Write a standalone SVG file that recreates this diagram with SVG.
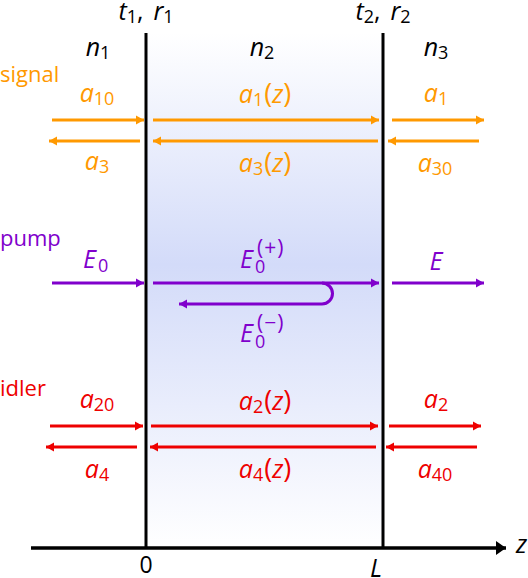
<svg xmlns="http://www.w3.org/2000/svg" width="528" height="578" viewBox="0 0 528 578">
<defs>
<linearGradient id="bg" x1="0" y1="0" x2="0" y2="1">
<stop offset="0" stop-color="#ffffff"/>
<stop offset="0.45" stop-color="#d3dbf9"/>
<stop offset="1" stop-color="#ffffff"/>
</linearGradient>
<marker id="mo" markerUnits="userSpaceOnUse" markerWidth="9" markerHeight="10" refX="8" refY="5" orient="auto"><path d="M0,0.5 L8,5 L0,9.5 z" fill="#ff9900"/></marker>
<marker id="mp" markerUnits="userSpaceOnUse" markerWidth="9" markerHeight="10" refX="8" refY="5" orient="auto"><path d="M0,0.5 L8,5 L0,9.5 z" fill="#8000cc"/></marker>
<marker id="mr" markerUnits="userSpaceOnUse" markerWidth="9" markerHeight="10" refX="8" refY="5" orient="auto"><path d="M0,0.5 L8,5 L0,9.5 z" fill="#ee0000"/></marker>
<marker id="mk" markerUnits="userSpaceOnUse" markerWidth="11" markerHeight="14" refX="10" refY="7" orient="auto"><path d="M0,0 L10,7 L0,14 z" fill="#000"/></marker>
</defs>
<style>
text{font-family:"Open Sans","DejaVu Sans",sans-serif;font-size:25px}
.i{font-style:italic}
.s{font-size:18px;font-style:normal}
.sp{font-size:21px;letter-spacing:1px}
.pa{font-size:27px}
.lb{font-size:22px}
.o{fill:#ff9900}.p{fill:#8000cc}.r{fill:#ee0000}.k{fill:#000}
.lo{stroke:#ff9900;stroke-width:3;fill:none;marker-end:url(#mo)}
.lp{stroke:#8000cc;stroke-width:3;fill:none;marker-end:url(#mp)}
.lr{stroke:#ee0000;stroke-width:3;fill:none;marker-end:url(#mr)}
</style>
<g id="slab">
<rect x="146" y="33" width="237" height="515" fill="url(#bg)"/>
<line x1="146" y1="33" x2="146" y2="548" stroke="#000" stroke-width="3"/>
<line x1="383" y1="33" x2="383" y2="548" stroke="#000" stroke-width="3"/>
</g>
<g id="axis">
<line x1="31" y1="548" x2="506" y2="548" stroke="#000" stroke-width="3.5" marker-end="url(#mk)"/>
<text x="516" y="553" class="i k">z</text>
<text x="146" y="573" text-anchor="middle" class="k" style="font-size:23px">0</text>
<text x="376" y="577" text-anchor="middle" class="i k">L</text>
</g>
<g id="interface-labels" class="k">
<text x="146" y="20" text-anchor="middle"><tspan class="i">t</tspan><tspan class="s" dy="3">1</tspan><tspan dy="-3">,</tspan><tspan class="i" dx="10">r</tspan><tspan class="s" dy="3">1</tspan></text>
<text x="383" y="20" text-anchor="middle"><tspan class="i">t</tspan><tspan class="s" dy="3">2</tspan><tspan dy="-3">,</tspan><tspan class="i" dx="10">r</tspan><tspan class="s" dy="3">2</tspan></text>
<text x="98" y="56" text-anchor="middle"><tspan class="i">n</tspan><tspan class="s" dy="3">1</tspan></text>
<text x="262" y="56" text-anchor="middle"><tspan class="i">n</tspan><tspan class="s" dy="3">2</tspan></text>
<text x="436" y="56" text-anchor="middle"><tspan class="i">n</tspan><tspan class="s" dy="3">3</tspan></text>
</g>
<g id="signal" class="o">
<text x="0" y="82" class="lb">signal</text>
<text x="97" y="102" text-anchor="middle"><tspan class="i">a</tspan><tspan class="s" dy="3">10</tspan></text>
<text x="97" y="170" text-anchor="middle"><tspan class="i">a</tspan><tspan class="s" dy="3">3</tspan></text>
<text x="265" y="103" text-anchor="middle"><tspan class="i">a</tspan><tspan class="s" dy="3">1</tspan><tspan class="pa" dy="-3" dx="1">(</tspan><tspan class="i">z</tspan><tspan class="pa">)</tspan></text>
<text x="265" y="172" text-anchor="middle"><tspan class="i">a</tspan><tspan class="s" dy="3">3</tspan><tspan class="pa" dy="-3" dx="1">(</tspan><tspan class="i">z</tspan><tspan class="pa">)</tspan></text>
<text x="436" y="102" text-anchor="middle"><tspan class="i">a</tspan><tspan class="s" dy="3">1</tspan></text>
<text x="435" y="172" text-anchor="middle"><tspan class="i">a</tspan><tspan class="s" dy="3">30</tspan></text>
</g>
<g id="pump" class="p">
<text x="0" y="246" class="lb">pump</text>
<text x="83" y="268" class="i">E</text><text x="98" y="272" class="s">0</text>
<text x="240" y="268" class="i">E</text><text x="255" y="273" class="s">0</text><text x="257" y="255" class="sp">(+)</text>
<text x="240" y="342" class="i">E</text><text x="255" y="348" class="s">0</text><text x="257" y="330" class="sp">(−)</text>
<text x="436" y="270" text-anchor="middle" class="i">E</text>
</g>
<g id="idler" class="r">
<text x="0" y="396" class="lb">idler</text>
<text x="97" y="408" text-anchor="middle"><tspan class="i">a</tspan><tspan class="s" dy="3">20</tspan></text>
<text x="97" y="478" text-anchor="middle"><tspan class="i">a</tspan><tspan class="s" dy="3">4</tspan></text>
<text x="265" y="410" text-anchor="middle"><tspan class="i">a</tspan><tspan class="s" dy="3">2</tspan><tspan class="pa" dy="-3" dx="1">(</tspan><tspan class="i">z</tspan><tspan class="pa">)</tspan></text>
<text x="265" y="478" text-anchor="middle"><tspan class="i">a</tspan><tspan class="s" dy="3">4</tspan><tspan class="pa" dy="-3" dx="1">(</tspan><tspan class="i">z</tspan><tspan class="pa">)</tspan></text>
<text x="436" y="408" text-anchor="middle"><tspan class="i">a</tspan><tspan class="s" dy="3">2</tspan></text>
<text x="435" y="478" text-anchor="middle"><tspan class="i">a</tspan><tspan class="s" dy="3">40</tspan></text>
</g>
<g id="connectors">
<line class="lo" x1="52" y1="120" x2="144" y2="120"/>
<line class="lo" x1="153" y1="120" x2="379" y2="120"/>
<line class="lo" x1="392" y1="120" x2="484" y2="120"/>
<line class="lo" x1="140" y1="141" x2="49" y2="141"/>
<line class="lo" x1="378" y1="141" x2="153" y2="141"/>
<line class="lo" x1="479" y1="141" x2="388" y2="141"/>
<line class="lp" x1="52" y1="283" x2="144" y2="283"/>
<line class="lp" x1="153" y1="283" x2="379" y2="283"/>
<line class="lp" x1="392" y1="283" x2="484" y2="283"/>
<path class="lp" d="M322,283 A10.5,10.5 0 0 1 322,304 L179,304"/>
<line class="lr" x1="50" y1="426" x2="143" y2="426"/>
<line class="lr" x1="151" y1="426" x2="378" y2="426"/>
<line class="lr" x1="389" y1="426" x2="481" y2="426"/>
<line class="lr" x1="137" y1="447" x2="46" y2="447"/>
<line class="lr" x1="376" y1="447" x2="150" y2="447"/>
<line class="lr" x1="477" y1="447" x2="386" y2="447"/>
</g>
</svg>
